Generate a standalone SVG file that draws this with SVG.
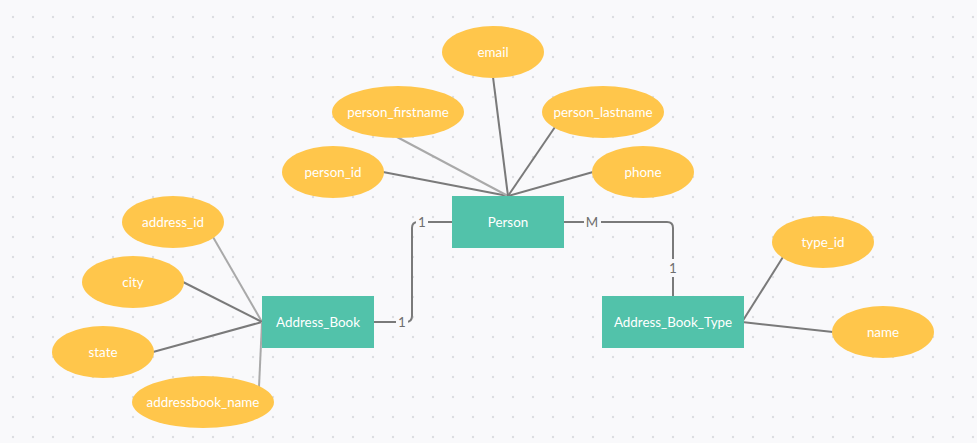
<svg xmlns="http://www.w3.org/2000/svg" width="977" height="443" viewBox="0 0 977 443">
<defs>
<pattern id="dots" x="3" y="7" width="20" height="20" patternUnits="userSpaceOnUse">
<circle cx="10" cy="10" r="1.2" fill="#dcdde1"/>
</pattern>
<style>
.ent rect{fill:#52c2aa;}
.attr ellipse{fill:#ffc64b;}
text{font-family:Lato,"Open Sans","Liberation Sans",sans-serif;font-size:13.4px;fill:#ffffff;text-anchor:middle;dominant-baseline:central;}
.ln{stroke:#7a7a7a;stroke-width:2;fill:none;}
.lt{stroke:#a9a9a9;stroke-width:2;fill:none;}
.card{fill:#6e6e6e;}
.cbg{fill:#f9f9fb;}
</style>
</defs>
<rect width="977" height="443" fill="#f9f9fb"/>
<rect width="977" height="443" fill="url(#dots)"/>
<g id="connectors">
<line class="ln" x1="383" y1="172" x2="508" y2="196"/>
<line class="lt" x1="397" y1="137" x2="508" y2="196"/>
<line class="ln" x1="493" y1="77" x2="508" y2="196"/>
<line class="ln" x1="555" y1="127" x2="508" y2="196"/>
<line class="ln" x1="593" y1="172" x2="508" y2="196"/>
<line class="lt" x1="213" y1="237" x2="262" y2="322"/>
<line class="ln" x1="183" y1="282" x2="262" y2="322"/>
<line class="ln" x1="153" y1="352" x2="262" y2="322"/>
<line class="lt" x1="259" y1="387" x2="262" y2="322"/>
<line class="ln" x1="783" y1="257" x2="742" y2="322"/>
<line class="ln" x1="833" y1="332" x2="742" y2="322"/>
<path class="ln" d="M374 322 H406 Q412 322 412 316 V228 Q412 222 418 222 H452"/>
<path class="ln" d="M564 222 H667 Q673 222 673 228 V296"/>
<rect class="cbg" x="396" y="313" width="12" height="18"/>
<text class="card" x="402" y="322">1</text>
<rect class="cbg" x="416" y="213" width="12" height="18"/>
<text class="card" x="422" y="222">1</text>
<rect class="cbg" x="584" y="213" width="17" height="18"/>
<text class="card" x="592" y="222">M</text>
<rect class="cbg" x="667" y="259" width="12" height="18"/>
<text class="card" x="673" y="268">1</text>
</g>
<g id="Person" class="ent"><rect x="452" y="196" width="112" height="52"/><text x="508" y="222">Person</text></g>
<g id="Address_Book" class="ent"><rect x="262" y="296" width="112" height="52"/><text x="318" y="322">Address_Book</text></g>
<g id="Address_Book_Type" class="ent"><rect x="602" y="296" width="142" height="52"/><text x="673" y="322">Address_Book_Type</text></g>
<g id="email" class="attr"><ellipse cx="493" cy="52" rx="51" ry="26"/><text x="493" y="52">email</text></g>
<g id="person_firstname" class="attr"><ellipse cx="398" cy="112" rx="66" ry="26"/><text x="398" y="112">person_firstname</text></g>
<g id="person_lastname" class="attr"><ellipse cx="603" cy="112" rx="61" ry="26"/><text x="603" y="112">person_lastname</text></g>
<g id="person_id" class="attr"><ellipse cx="333" cy="172" rx="51" ry="26"/><text x="333" y="172">person_id</text></g>
<g id="phone" class="attr"><ellipse cx="643" cy="172" rx="51" ry="26"/><text x="643" y="172">phone</text></g>
<g id="address_id" class="attr"><ellipse cx="173" cy="222" rx="51" ry="26"/><text x="173" y="222">address_id</text></g>
<g id="city" class="attr"><ellipse cx="133" cy="282" rx="51" ry="26"/><text x="133" y="282">city</text></g>
<g id="state" class="attr"><ellipse cx="103" cy="352" rx="51" ry="26"/><text x="103" y="352">state</text></g>
<g id="addressbook_name" class="attr"><ellipse cx="203" cy="402" rx="71" ry="26"/><text x="203" y="402">addressbook_name</text></g>
<g id="type_id" class="attr"><ellipse cx="823" cy="242" rx="51" ry="26"/><text x="823" y="242">type_id</text></g>
<g id="name" class="attr"><ellipse cx="883" cy="332" rx="51" ry="26"/><text x="883" y="332">name</text></g>
</svg>
